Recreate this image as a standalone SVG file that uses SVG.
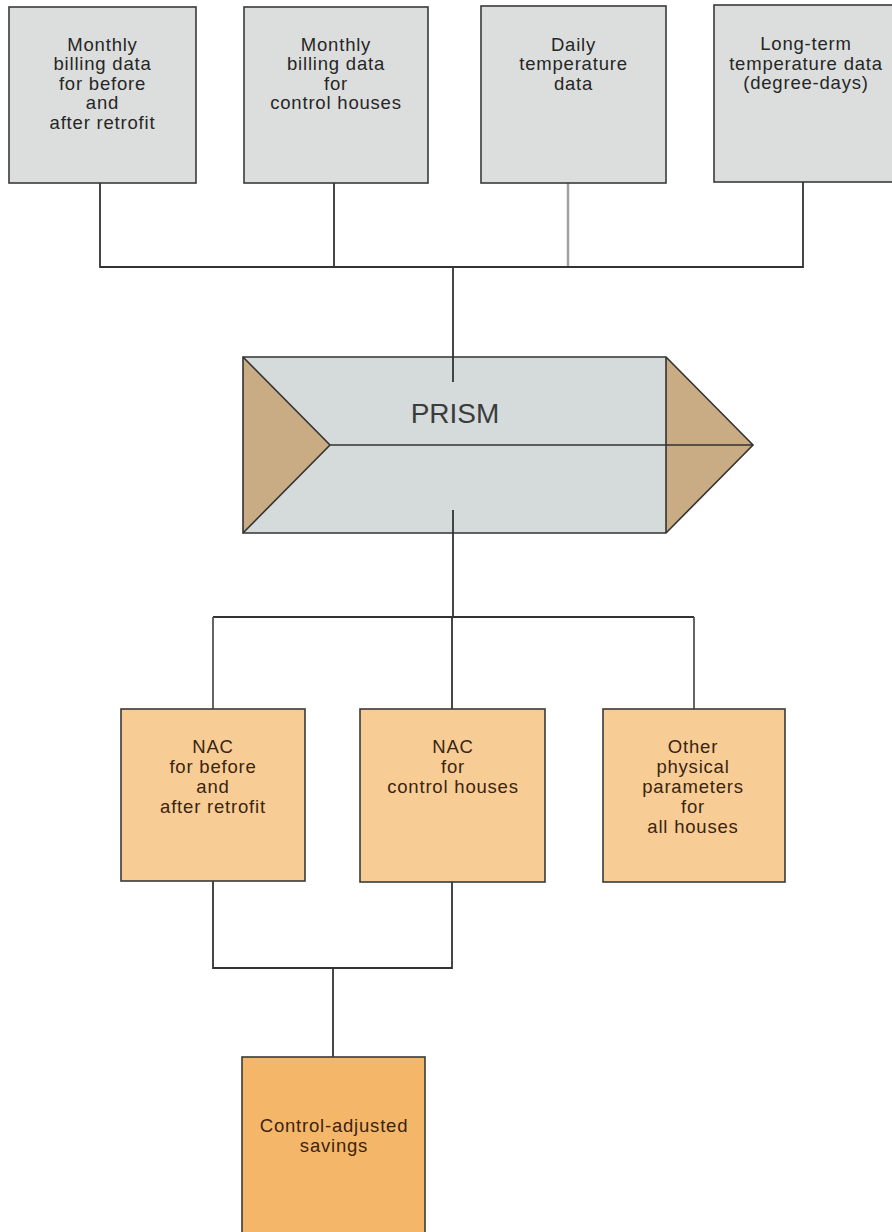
<svg xmlns="http://www.w3.org/2000/svg" width="892" height="1232" viewBox="0 0 892 1232">
<style>
.box{stroke:#3a3a3a;stroke-width:1.6}
.grey{fill:#dcdedd}
.nac{fill:#f7cd95}
.res{fill:#f4b76a}
.t{font-family:"Liberation Sans",Arial,sans-serif;font-size:18.5px;letter-spacing:0.8px;text-anchor:middle}
.tg{fill:#262626}
.tb{fill:#3b2410}
.ln{fill:none;stroke:#333;stroke-width:1.8}
.lg{fill:none;stroke:#a0a0a0;stroke-width:2.4}
.lm{fill:none;stroke:#555;stroke-width:1.8}
</style>
<rect width="892" height="1232" fill="#ffffff"/>
<g id="connectors">
<path class="ln" d="M100,183 V267 H803 V182"/>
<path class="ln" d="M334,183 V267"/>
<path class="lg" d="M568,183 V266"/>
<path class="ln" d="M453,267 V382"/>
<path class="ln" d="M453,510 V617"/>
<path class="ln" d="M213,617 H694"/>
<path class="lm" d="M213,617 V709"/>
<path class="ln" d="M452,617 V709"/>
<path class="lm" d="M694,617 V709"/>
<path class="ln" d="M213,881 V968 H452 V882"/>
<path class="ln" d="M333,968 V1057"/>
</g>
<g id="n1">
<rect class="box grey" x="9" y="7" width="187" height="176"/>
<text class="t tg" x="102.5"><tspan x="102.5" y="51">Monthly</tspan><tspan x="102.5" y="70">billing data</tspan><tspan x="102.5" y="89.5">for before</tspan><tspan x="102.5" y="109">and</tspan><tspan x="102.5" y="128.5">after retrofit</tspan></text>
</g>
<g id="n2">
<rect class="box grey" x="244" y="7" width="184" height="176"/>
<text class="t tg" x="336"><tspan x="336" y="51">Monthly</tspan><tspan x="336" y="70">billing data</tspan><tspan x="336" y="89.5">for</tspan><tspan x="336" y="109">control houses</tspan></text>
</g>
<g id="n3">
<rect class="box grey" x="481" y="6" width="185" height="177"/>
<text class="t tg" x="573.5"><tspan x="573.5" y="51">Daily</tspan><tspan x="573.5" y="70">temperature</tspan><tspan x="573.5" y="89.5">data</tspan></text>
</g>
<g id="n4">
<rect class="box grey" x="714" y="5" width="184" height="177"/>
<text class="t tg" x="806"><tspan x="806" y="50">Long-term</tspan><tspan x="806" y="69.5">temperature data</tspan><tspan x="806" y="89">(degree-days)</tspan></text>
</g>
<g id="prism">
<polygon points="243,357 666,357 753,445 666,533 243,533" fill="#d5dadb"/>
<polygon points="243,357 330,445 243,533" fill="#c9ab84"/>
<polygon points="666,357 753,445 666,533" fill="#c9ab84"/>
<polygon points="243,357 666,357 753,445 666,533 243,533" fill="none" stroke="#333" stroke-width="1.6"/>
<path d="M243,357 L330,445 L243,533 M666,357 V533 M330,445 H753" fill="none" stroke="#333" stroke-width="1.6"/>
<path class="ln" d="M453,357 V382 M453,510 V533"/>
<text x="455" y="423" font-family="Liberation Sans,Arial,sans-serif" font-size="28" fill="#3c3c3c" text-anchor="middle">PRISM</text>
</g>
<g id="nac1">
<rect class="box nac" x="121" y="709" width="184" height="172"/>
<text class="t tb" x="213"><tspan x="213" y="753">NAC</tspan><tspan x="213" y="773">for before</tspan><tspan x="213" y="793">and</tspan><tspan x="213" y="813">after retrofit</tspan></text>
</g>
<g id="nac2">
<rect class="box nac" x="360" y="709" width="185" height="173"/>
<text class="t tb" x="453"><tspan x="453" y="753">NAC</tspan><tspan x="453" y="773">for</tspan><tspan x="453" y="793">control houses</tspan></text>
</g>
<g id="other">
<rect class="box nac" x="603" y="709" width="182" height="173"/>
<text class="t tb" x="693"><tspan x="693" y="753">Other</tspan><tspan x="693" y="773">physical</tspan><tspan x="693" y="793">parameters</tspan><tspan x="693" y="813">for</tspan><tspan x="693" y="833">all houses</tspan></text>
</g>
<g id="savings">
<rect class="box res" x="242" y="1057" width="183" height="190"/>
<text class="t tb" x="334"><tspan x="334" y="1132">Control-adjusted</tspan><tspan x="334" y="1152">savings</tspan></text>
</g>
</svg>
